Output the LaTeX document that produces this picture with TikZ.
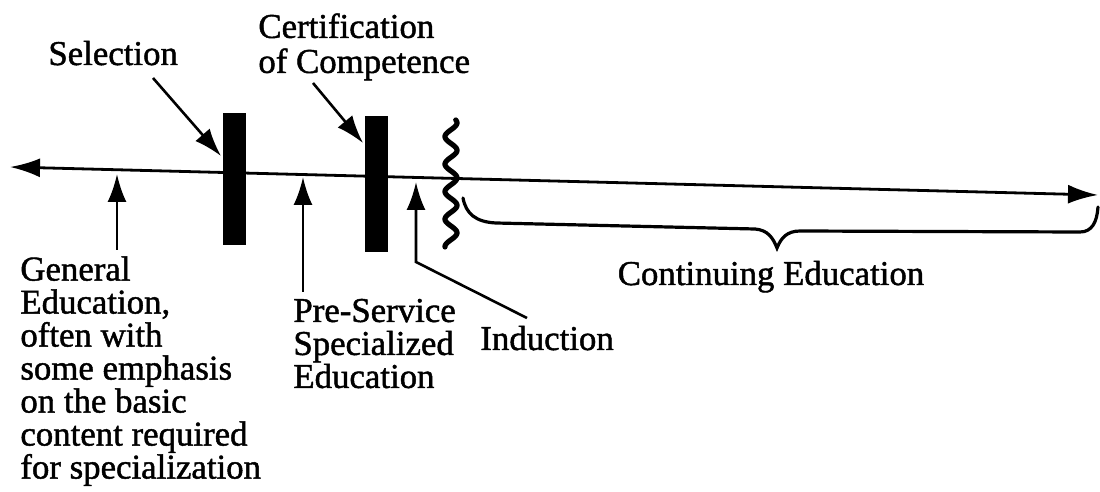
\documentclass[tikz,border=0pt]{standalone}
\usepackage{fontspec}
\setmainfont{Liberation Serif}[FakeBold=1.3]
\usetikzlibrary{arrows.meta}

\begin{document}
\begin{tikzpicture}[x=0.5pt,y=-0.5pt,
  lbl/.style={font=\fontsize{17.4}{16.5}\selectfont, inner sep=0pt, align=left},
  tip/.style={-{Latex[length=14pt,width=9.5pt]}},
  axisline/.style={line width=1.4pt, {Latex[length=15pt,width=9.5pt]}-{Latex[length=15pt,width=9.5pt]}},
  ptr/.style={line width=1.3pt, tip},
  bar/.style={fill=black, draw=none, inner sep=0pt, minimum width=11.5pt},
  wave/.style={line width=2.6pt, line cap=round},
  bracepath/.style={line width=1.6pt, line cap=round}]

\useasboundingbox (0,0) rectangle (1100,492);

% time line
\coordinate (L) at (10,167);
\coordinate (R) at (1098,195);
\draw[axisline] (L) -- (R);

% selection and certification barriers
\node[bar, minimum height=66pt] (selbar) at (234.5,179) {};
\node[bar, minimum height=68pt] (certbar) at (376.5,184) {};

% induction break
\draw[wave] plot[domain=0:127, samples=160, smooth]
  ({451+6*sin((\x+4)/27.5*360)}, {120+\x});

% labels above
\node[lbl, anchor=base west] (sel) at (48,65) {Selection};
\node[lbl, anchor=north west, font=\fontsize{17.4}{17.5}\selectfont] (cert) at (258,13)
  {Certification\\of Competence};

\coordinate (selfrom) at (153,78);
\coordinate (selto) at (221,156);
\coordinate (certfrom) at (313,83);
\coordinate (certto) at (363,143);
\draw[ptr] (selfrom) -- (selto);
\draw[ptr] (certfrom) -- (certto);

% labels below
\node[lbl, anchor=north west] (gen) at (20,256)
  {General\\Education,\\often with\\some emphasis\\on the basic\\content required\\for specialization};
\node[lbl, anchor=north west] (pre) at (293,298.5)
  {Pre-Service\\Specialized\\Education};
\node[lbl, anchor=base west] (ind) at (480,350) {Induction};
\node[lbl, anchor=base] (cont) at (771,285) {Continuing Education};

\coordinate (genfrom) at (117,250);
\coordinate (gento) at (117,174);
\coordinate (prefrom) at (303,292);
\coordinate (preto) at (303,177);
\coordinate (indfrom) at (527,318);
\coordinate (indbend) at (416,262);
\coordinate (indto) at (416,182);
\draw[ptr] (genfrom) -- (gento);
\draw[ptr] (prefrom) -- (preto);
\draw[ptr] (indfrom) -- (indbend) -- (indto);

% brace over continuing education
\draw[bracepath] (463,198) .. controls (466,214) and (476,222) .. (496,223)
  -- (755,229) .. controls (768,230) and (773,238) .. (777,248)
  .. controls (781,238) and (787,231) .. (800,231)
  -- (1080,232) .. controls (1092,232) and (1097,222) .. (1098,207);
\end{tikzpicture}
\end{document}
